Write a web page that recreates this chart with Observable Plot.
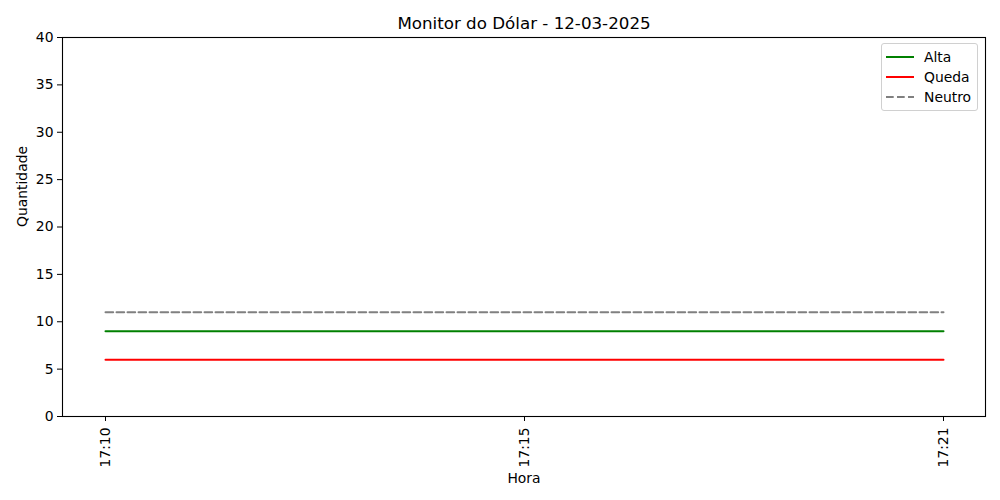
<!DOCTYPE html>
<html>
<head>
<meta charset="utf-8">
<script src="https://cdn.jsdelivr.net/npm/d3@7"></script>
<script src="https://cdn.jsdelivr.net/npm/@observablehq/plot@0.6"></script>
<style>
  html, body { margin: 0; padding: 0; background: #fff; }
  #wrap { position: relative; width: 1000px; height: 500px; font-family: "DejaVu Sans", sans-serif; }
  #legend { position: absolute; left: 881px; top: 43px; width: 95px; height: 66px;
    border: 1px solid #d0d0d0; border-radius: 3px; background: rgba(255,255,255,0.8);
    font-size: 13.9px; color: #000; }
  .row { position: absolute; left: 4px; height: 20px; display: flex; align-items: center; }
  .row svg { margin-right: 10px; }
</style>
</head>
<body>
<div id="wrap"></div>
<script>
const horas = ["17:10", "17:15", "17:21"];
const alta = [9, 9, 9];
const queda = [6, 6, 6];
const neutro = [11, 11, 11];
const yTicks = [0, 5, 10, 15, 20, 25, 30, 35, 40];
const series = [
  {name: "Alta", values: alta, color: "#008000", dash: null},
  {name: "Queda", values: queda, color: "#ff0000", dash: null},
  {name: "Neutro", values: neutro, color: "#808080", dash: "7.7,3.3"}
];

const font = "DejaVu Sans";
const lineMarks = series.map(s => Plot.line(horas.map((h, i) => ({h, v: s.values[i]})), {
  x: "h", y: "v", stroke: s.color, strokeWidth: 2, strokeDasharray: s.dash || undefined
}));

const chart = Plot.plot({
  width: 1000,
  height: 500,
  marginLeft: 62,
  marginRight: 15,
  marginTop: 37,
  marginBottom: 84,
  style: {fontFamily: font, fontSize: "13.9px", color: "#000", background: "#fff"},
  x: {type: "point", domain: horas, padding: 0.1, label: null},
  y: {domain: [0, 40], label: null},
  marks: [
    ...lineMarks,
    Plot.frame({stroke: "#000", strokeWidth: 1.1}),
    Plot.axisX({ticks: horas, tickSize: 5, tickPadding: 6, tickRotate: -90, label: null, fontSize: 13.9}),
    Plot.axisY({ticks: yTicks, tickSize: 5, tickPadding: 4, label: null, fontSize: 13.9}),
    Plot.text(["Monitor do Dólar - 12-03-2025"], {frameAnchor: "top", dy: -14, fontSize: 16.7, fill: "#000", lineAnchor: "middle"}),
    Plot.text(["Hora"], {frameAnchor: "bottom", dy: 66, fontSize: 13.9, fill: "#000"}),
    Plot.text(["Quantidade"], {frameAnchor: "left", dx: -40, rotate: -90, fontSize: 13.9, fill: "#000"})
  ]
});
const wrap = document.getElementById("wrap");
wrap.appendChild(chart);

const legend = document.createElement("div");
legend.id = "legend";
series.forEach((s, i) => {
  const row = document.createElement("div");
  row.className = "row";
  row.style.top = (3 + i * 20) + "px";
  row.innerHTML = `<svg width="28" height="6"><line x1="0" y1="3" x2="28" y2="3" stroke="${s.color}" stroke-width="2" ${s.dash ? `stroke-dasharray="${s.dash}"` : ""}/></svg><span>${s.name}</span>`;
  legend.appendChild(row);
});
wrap.appendChild(legend);
</script>
</body>
</html>
